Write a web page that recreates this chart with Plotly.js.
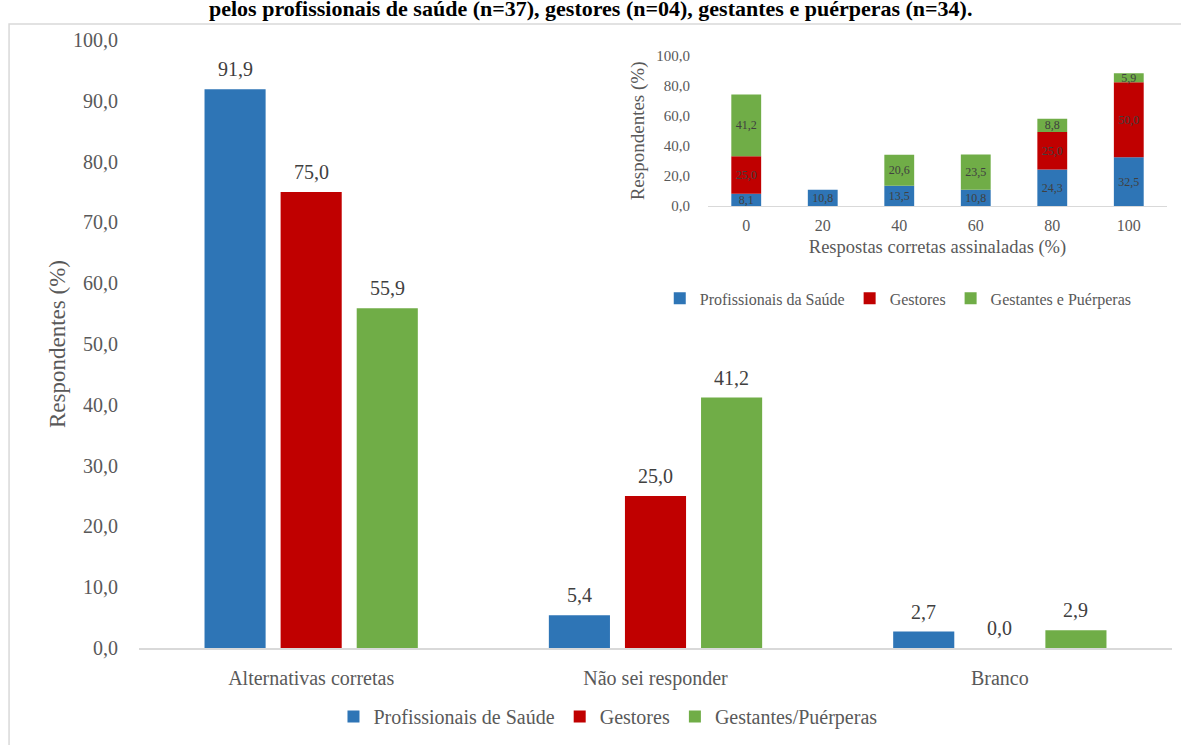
<!DOCTYPE html>
<html>
<head>
<meta charset="utf-8">
<script src="https://cdn.plot.ly/plotly-3.0.1.min.js"></script>
<style>
  html, body { margin: 0; padding: 0; background: #ffffff; }
  #chart { width: 1181px; height: 745px; }
</style>
</head>
<body>
<div id="chart"></div>
<script>
// Main chart: answers by respondent group
const categories = ['Alternativas corretas', 'Não sei responder', 'Branco'];
const profissionais = [91.9, 5.4, 2.7];
const gestores = [75.0, 25.0, 0.0];
const gestantes = [55.9, 41.2, 2.9];
const mainNames = ['Profissionais de Saúde', 'Gestores', 'Gestantes/Puérperas'];

// Inset chart: share of correct answers marked
const insetCategories = ['0', '20', '40', '60', '80', '100'];
const insetProfissionais = [8.1, 10.8, 13.5, 10.8, 24.3, 32.5];
const insetGestores = [25.0, 0, 0, 0, 25.0, 50.0];
const insetGestantes = [41.2, 0, 20.6, 23.5, 8.8, 5.9];
const insetNames = ['Profissionais da Saúde', 'Gestores', 'Gestantes e Puérperas'];

const colors = ['#2E75B6', '#C00000', '#70AD47'];
const FONT = 'Liberation Serif, Times New Roman, serif';
const GREY = '#595959';
const AXIS = '#D9D9D9';

const mainSeries = [profissionais, gestores, gestantes];
const insetSeries = [insetProfissionais, insetGestores, insetGestantes];

const traces = [];
mainSeries.forEach((vals, i) => {
  traces.push({
    type: 'bar', x: categories, y: vals, name: mainNames[i],
    marker: { color: colors[i] }, xaxis: 'x', yaxis: 'y', legend: 'legend',
    hoverinfo: 'skip'
  });
});

// stacked inset bars: each series sits on the running total of the previous ones
const running = insetCategories.map(() => 0);
insetSeries.forEach((vals, i) => {
  const base = running.slice();
  vals.forEach((v, k) => { running[k] += v; });
  traces.push({
    type: 'bar', x: insetCategories, y: vals, base: base, name: insetNames[i],
    marker: { color: colors[i] }, xaxis: 'x2', yaxis: 'y2', legend: 'legend2',
    offsetgroup: 'inset', width: 0.39,
    text: vals.map(v => v > 0 ? v.toFixed(1).replace('.', ',') : ''),
    textposition: 'inside', insidetextanchor: 'middle', textangle: 0,
    constraintext: 'none',
    textfont: { family: FONT, size: 12, color: '#404040' },
    hoverinfo: 'skip'
  });
});

// value labels above the main bars
const annotations = [];
mainSeries.forEach((vals, i) => {
  vals.forEach((v, k) => {
    annotations.push({
      x: categories[k], y: v, xref: 'x', yref: 'y',
      xshift: (i - 1) * 76, yshift: 20, yanchor: 'middle',
      text: v.toFixed(1).replace('.', ','), showarrow: false,
      font: { family: FONT, size: 20, color: '#404040' }
    });
  });
});

annotations.push({
  xref: 'paper', yref: 'paper', x: 0.4366, y: 1.028,
  xanchor: 'center', yanchor: 'bottom', showarrow: false,
  text: '<b>pelos profissionais de saúde (n=37), gestores (n=04), gestantes e puérperas (n=34).</b>',
  font: { family: FONT, size: 22, color: '#000000' }
});

const layout = {
  width: 1181, height: 745,
  margin: { l: 139, r: 9, t: 40, b: 93 },
  paper_bgcolor: '#ffffff', plot_bgcolor: 'rgba(0,0,0,0)',
  separators: ',.',
  barmode: 'group', bargap: 0.337, bargroupgap: 0.197,
  font: { family: FONT, color: GREY },
  xaxis: {
    domain: [0, 1], type: 'category',
    showline: true, linecolor: AXIS, linewidth: 1.5,
    ticks: 'outside', ticklen: 11, tickcolor: 'rgba(0,0,0,0)',
    tickfont: { family: FONT, size: 20, color: GREY },
    showgrid: false, zeroline: false, fixedrange: true
  },
  yaxis: {
    domain: [0, 1], range: [0, 100], dtick: 10, tickformat: '.1f',
    showgrid: false, zeroline: false, showline: false,
    ticks: 'outside', ticklen: 16, tickcolor: 'rgba(0,0,0,0)',
    tickfont: { family: FONT, size: 20, color: GREY },
    title: { text: 'Respondentes (%)', standoff: 0, font: { family: FONT, size: 23, color: GREY } },
    fixedrange: true
  },
  xaxis2: {
    domain: [0.5508, 0.9952], anchor: 'y2', type: 'category',
    showline: true, linecolor: AXIS, linewidth: 1.5,
    ticks: 'outside', ticklen: 4, tickcolor: 'rgba(0,0,0,0)',
    tickfont: { family: FONT, size: 16, color: GREY },
    title: { text: 'Respostas corretas assinaladas (%)', standoff: 7, font: { family: FONT, size: 18.5, color: GREY } },
    showgrid: false, zeroline: false, fixedrange: true
  },
  yaxis2: {
    domain: [0.7271, 0.9739], anchor: 'x2', range: [0, 100], dtick: 20, tickformat: '.1f',
    showgrid: false, zeroline: false, showline: false,
    ticks: 'outside', ticklen: 14, tickcolor: 'rgba(0,0,0,0)',
    tickfont: { family: FONT, size: 15, color: GREY },
    title: { text: 'Respondentes (%)', standoff: 6, font: { family: FONT, size: 19, color: GREY } },
    fixedrange: true
  },
  legend: {
    orientation: 'h', x: 0.454, y: -0.1127, xanchor: 'center', yanchor: 'middle',
    font: { family: FONT, size: 20, color: GREY }, itemwidth: 30,
    bgcolor: 'rgba(0,0,0,0)'
  },
  legend2: {
    orientation: 'h', x: 0.735, y: 0.575, xanchor: 'center', yanchor: 'middle',
    font: { family: FONT, size: 16, color: GREY }, itemwidth: 30,
    bgcolor: 'rgba(0,0,0,0)'
  },
  shapes: [{
    type: 'rect', xref: 'paper', yref: 'paper', layer: 'below',
    x0: -0.1258, x1: 1.05, y0: -0.25, y1: 1.0262,
    line: { color: AXIS, width: 1.5 }, fillcolor: 'rgba(0,0,0,0)'
  }],
  annotations: annotations
};

Plotly.newPlot('chart', traces, layout, { displayModeBar: false, staticPlot: true });
</script>
</body>
</html>
